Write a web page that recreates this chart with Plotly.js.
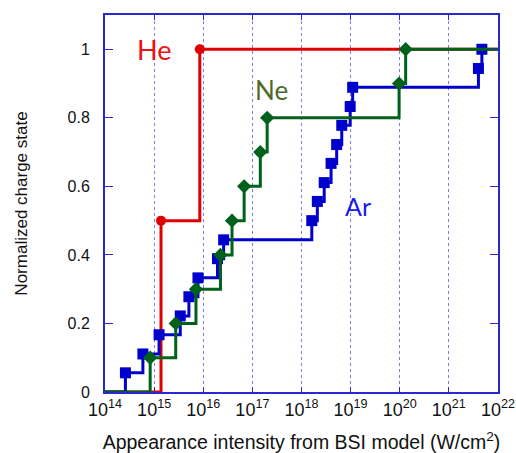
<!DOCTYPE html>
<html>
<head>
<meta charset="utf-8">
<script src="https://cdn.plot.ly/plotly-3.0.1.min.js"></script>
<style>html,body{margin:0;padding:0;background:#fff;}#chart{width:516px;height:453px;}</style>
</head>
<body>
<div id="chart"></div>
<script>
// axis ranges (log10 for x)
const xRange = [14, 22];
const yRange = [0, 1.1];
const xTickExps = [14, 15, 16, 17, 18, 19, 20, 21, 22];
const xTickText = xTickExps.map(e => '10<sup>' + e + '</sup>');

// He (red)
const heX = [1.38e15, 8.5e15];
const heY = [0.5, 1.0];

// Ne (green)
const neX = [8.3e14, 2.75e15, 7.1e15, 2.24e16, 3.85e16, 6.8e16, 1.45e17, 2.0e17, 9.7e19, 1.32e20];
const neY = [0.1, 0.2, 0.3, 0.4, 0.5, 0.6, 0.7, 0.8, 0.9, 1.0];

// Ar (blue)
const arX = [2.6e14, 5.9e14, 1.26e15, 3.4e15, 5.1e15, 7.8e15, 1.95e16, 2.6e16,
             1.62e18, 2.1e18, 2.9e18, 4.0e18, 5.2e18, 6.6e18, 9.8e18, 1.1e19, 4.0e21, 4.7e21];
const arY = [0.056, 0.111, 0.167, 0.222, 0.278, 0.333, 0.389, 0.444,
             0.5, 0.556, 0.611, 0.667, 0.722, 0.778, 0.833, 0.889, 0.944, 1.0];

const xMin = Math.pow(10, xRange[0]);
const xMax = Math.pow(10, xRange[1]);

const RED = '#e00000', GREEN = '#00611a', BLUE = '#0000cc';

function stepLine(xs, ys, color, extend) {
  const x = [xMin].concat(xs);
  const y = [0].concat(ys);
  if (extend) { x.push(xMax); y.push(ys[ys.length - 1]); }
  return {x: x, y: y, mode: 'lines', line: {shape: 'hv', color: color, width: 3}, hoverinfo: 'skip', showlegend: false};
}
function marks(xs, ys, color, symbol, size) {
  return {x: xs, y: ys, mode: 'markers', marker: {symbol: symbol, color: color, size: size}, showlegend: false};
}

const data = [
  stepLine(heX, heY, RED, true),
  marks(heX, heY, RED, 'circle', 10),
  stepLine(arX, arY, BLUE, false),
  marks(arX, arY, BLUE, 'square', 11),
  stepLine(neX, neY, GREEN, true),
  marks(neX, neY, GREEN, 'diamond', 11)
];

const axisBlue = '#2a2acc';
const layout = {
  width: 516, height: 453,
  margin: {l: 105, r: 18, t: 15, b: 61},
  paper_bgcolor: '#fff', plot_bgcolor: '#fff',
  showlegend: false,
  font: {family: 'Liberation Sans, Arial, sans-serif', color: '#111'},
  xaxis: {
    type: 'log', range: [xRange[0] - 0.0005, xRange[1] + 0.0005],
    tickmode: 'array',
    tickvals: xTickExps.map(v => Math.pow(10, v)),
    ticktext: xTickText,
    ticks: 'inside', ticklen: 5, tickcolor: axisBlue, tickwidth: 1,
    showline: true, linecolor: axisBlue, linewidth: 2, mirror: 'ticks',
    showgrid: true, gridcolor: '#7b7be0', gridwidth: 1, griddash: 'dot',
    zeroline: false,
    tickfont: {size: 18, color: '#111'},
    ticklabelstandoff: 0,
    title: {text: 'Appearance intensity from BSI model (W/cm<sup>2</sup>)', font: {size: 19.5, color: '#111'}, standoff: 18}
  },
  yaxis: {
    range: yRange, dtick: 0.2, tick0: 0,
    ticks: 'inside', ticklen: 8, tickcolor: axisBlue, tickwidth: 1,
    showline: true, linecolor: axisBlue, linewidth: 2, mirror: 'ticks',
    showgrid: false, zeroline: false,
    tickfont: {size: 16, color: '#111'},
    ticklabelstandoff: 10,
    title: {text: 'Normalized charge state', font: {size: 17, color: '#111'}, standoff: 36}
  },
  annotations: [
    {x: 15.0, y: 1.0, xref: 'x', yref: 'y', text: 'He', showarrow: false,
     font: {family: 'Lato, sans-serif', size: 27, color: '#ee1111'}},
    {x: 17.38, y: 0.88, xref: 'x', yref: 'y', text: 'Ne', showarrow: false,
     font: {family: 'Lato, sans-serif', size: 26, color: '#4f6a28'}},
    {x: 19.15, y: 0.542, xref: 'x', yref: 'y', text: 'Ar', showarrow: false,
     font: {family: 'Lato, sans-serif', size: 25, color: '#1a1af0'}}
  ]
};

Plotly.newPlot('chart', data, layout, {displayModeBar: false, staticPlot: true});
</script>
</body>
</html>
